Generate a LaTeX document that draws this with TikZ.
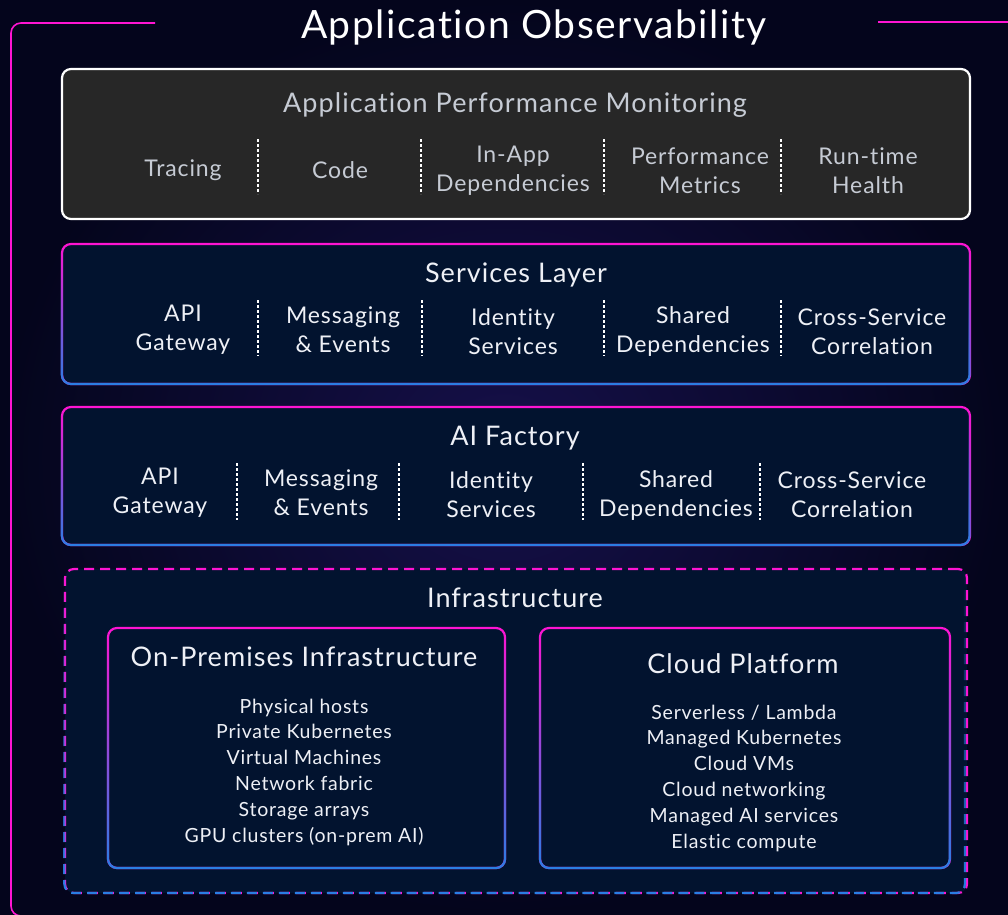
\documentclass[tikz,border=0pt]{standalone}
\usepackage{fontspec}
\setmainfont{Lato}[LetterSpace=3.9, Ligatures=NoCommon]
\usetikzlibrary{positioning, fadings}
\definecolor{obsmagenta}{HTML}{FF14D2}
\definecolor{obsblue}{HTML}{2A7FE4}
\definecolor{obsnavy}{HTML}{02132F}
\definecolor{obsgrey}{HTML}{272727}
\definecolor{obstext}{HTML}{EEF0F6}
\definecolor{obsmuted}{HTML}{C6CBD4}
\definecolor{obsbgin}{HTML}{16104A}
\definecolor{obsbgout}{HTML}{04051C}
\tikzfading[name=lowerfade, top color=transparent!100, middle color=transparent!82, bottom color=transparent!0]

\begin{document}
\begin{tikzpicture}[x=1pt, y=-1pt,
        layer/.style={rectangle, rounded corners=9pt, line width=2.2pt, outer sep=0pt,
          fill=obsnavy, draw=obsmagenta, postaction={draw=obsblue, path fading=lowerfade}},
        apmbox/.style={rectangle, rounded corners=9pt, line width=2.2pt, outer sep=0pt,
          fill=obsgrey, draw=white},
        title/.style={text=obstext, font=\fontsize{27}{32}\selectfont},
        item/.style={text=obstext, align=center, font=\fontsize{23}{29}\selectfont},
        list/.style={text=obstext, align=center, font=\fontsize{19.5}{25.8}\selectfont},
        sep/.style={white, line width=1.1pt, dash pattern=on 3pt off 2pt}]
      % Background
      \useasboundingbox (0,0) rectangle (1008,914);
      \shade[inner color=obsbgin, outer color=obsbgout] (0,0) rectangle (1008,914);
      \draw[obsmagenta, line width=1.6pt, rounded corners=10pt] (155,23) -- (11,23) -- (11,916) -- (60,916);
      \draw[obsmagenta, line width=1.6pt] (878,22) -- (1010,22);
      \node[text=white, font=\fontsize{39}{44}\selectfont, anchor=base] (heading) at (534,38) {Application Observability};

      % Layers
      \node[apmbox, minimum width=908pt, minimum height=150pt] (apm) at (516,144) {};
      \node[layer, minimum width=908pt, minimum height=140pt] (services) at (516,314) {};
      \node[layer, minimum width=908pt, minimum height=138pt] (aifactory) at (516,476) {};
      \node[layer, dashed, dash pattern=on 10pt off 6pt, fill=obsnavy, minimum width=902pt, minimum height=324pt] (infra) at (516,731) {};
      \node[layer, minimum width=397pt, minimum height=240pt] (onprem) at (306.5,748) {};
      \node[layer, minimum width=410pt, minimum height=240pt] (cloud) at (745,748) {};

      % Application Performance Monitoring
      \node[title, text=obsmuted, anchor=base] (apmtitle) at (515,112) {Application Performance Monitoring};
      \node[item, text=obsmuted] (tracing) at (183,170.5) {Tracing};
      \node[item, text=obsmuted] (code) at (340,170.5) {Code};
      \node[item, text=obsmuted] (inapp) at (513,170.5) {In-App\\Dependencies};
      \node[item, text=obsmuted] (perf) at (700,170.5) {Performance\\Metrics};
      \node[item, text=obsmuted] (runtime) at (868,170.5) {Run-time\\Health};
      \foreach \x in {258,421,604,781}
        \draw[sep] (\x,139) -- (\x,194);

      % Services Layer
      \node[title, anchor=base] (svctitle) at (516,282) {Services Layer};
      \node[item] (svcapi) at (183,329.5) {API\\Gateway};
      \node[item] (svcmsg) at (343,329.5) {Messaging\\\& Events};
      \node[item] (svcid) at (513,331.5) {Identity\\Services};
      \node[item] (svcshared) at (693,331.5) {Shared\\Dependencies};
      \node[item] (svccross) at (872,331.5) {Cross-Service\\Correlation};
      \foreach \x in {258,422,604,781}
        \draw[sep] (\x,300) -- (\x,356);

      % AI Factory
      \node[title, anchor=base] (aititle) at (515,445) {AI Factory};
      \node[item] (aiapi) at (160,493) {API\\Gateway};
      \node[item] (aimsg) at (321,493) {Messaging\\\& Events};
      \node[item] (aiid) at (491,495) {Identity\\Services};
      \node[item] (aishared) at (676,495) {Shared\\Dependencies};
      \node[item] (aicross) at (852,495) {Cross-Service\\Correlation};
      \foreach \x in {237,399,583,760}
        \draw[sep] (\x,463) -- (\x,520);

      % Infrastructure
      \node[title, anchor=base] (infratitle) at (515,607) {Infrastructure};
      \node[title, anchor=base] (onpremtitle) at (304,666) {On-Premises Infrastructure};
      \node[list] (onpremlist) at (304,772) {Physical hosts\\Private Kubernetes\\Virtual Machines\\Network fabric\\Storage arrays\\GPU clusters (on-prem AI)};
      \node[title, anchor=base] (cloudtitle) at (743,673) {Cloud Platform};
      \node[list] (cloudlist) at (744,778) {Serverless / Lambda\\Managed Kubernetes\\Cloud VMs\\Cloud networking\\Managed AI services\\Elastic compute};
    \end{tikzpicture}
\end{document}
